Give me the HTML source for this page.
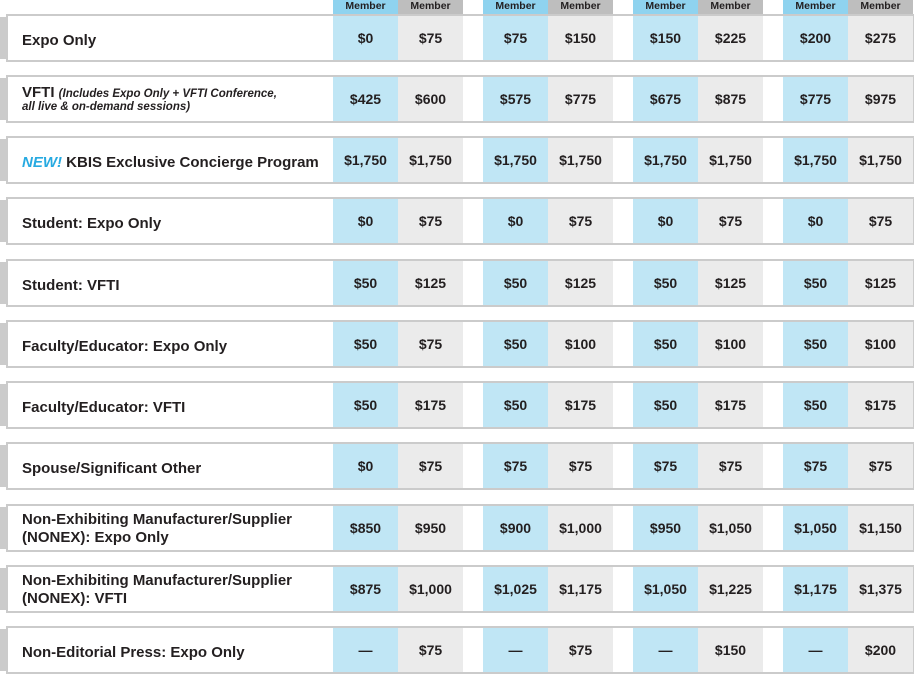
<!DOCTYPE html>
<html><head><meta charset="utf-8"><style>
*{margin:0;padding:0;box-sizing:border-box}
body{width:917px;height:675px;background:#fff;font-family:"Liberation Sans",Arial,sans-serif;color:#231f20;position:relative;overflow:hidden}
.h{position:absolute;top:0;height:14px;width:65px;font-size:10.5px;font-weight:bold;text-align:center;line-height:13px}
.hb{background:#8fd3ef}.hg{background:#bebebe}
.row{position:absolute;left:6px;width:908px;height:48px;border:2px solid #cbcbcb;background:#fff}
.tab{position:absolute;left:0;width:6px;height:42px;background:#cbcbcb}
.lab{position:absolute;left:14px;top:3px;height:44px;display:flex;align-items:center;font-size:15px;font-weight:bold;line-height:18px}
.c{position:absolute;top:0;height:44px;width:65px;display:flex;align-items:center;justify-content:center;font-size:14px;font-weight:bold}
.b{background:#c0e6f5}.g{background:#ebebeb}
.x1{left:325px}.x2{left:390px}.x3{left:475px}.x4{left:540px}.x5{left:625px}.x6{left:690px}.x7{left:775px}.x8{left:840px}
</style></head><body>
<div class="h hb" style="left:333px">Member</div><div class="h hg" style="left:398px">Member</div>
<div class="h hb" style="left:483px">Member</div><div class="h hg" style="left:548px">Member</div>
<div class="h hb" style="left:633px">Member</div><div class="h hg" style="left:698px">Member</div>
<div class="h hb" style="left:783px">Member</div><div class="h hg" style="left:848px">Member</div>

<div class="tab" style="top:17px"></div>
<div class="row" style="top:14px"><div class="lab">Expo Only</div>
<div class="c b x1">$0</div><div class="c g x2">$75</div><div class="c b x3">$75</div><div class="c g x4">$150</div><div class="c b x5">$150</div><div class="c g x6">$225</div><div class="c b x7">$200</div><div class="c g x8">$275</div></div>

<div class="tab" style="top:78px"></div>
<div class="row" style="top:75px"><div class="lab" style="display:block;top:0;padding-top:7px"><span style="font-size:15px">VFTI</span> <i style="font-size:11.5px">(Includes Expo Only + VFTI Conference,</i><br><i style="font-size:11.5px;line-height:12px;display:block;margin-top:-2px">all live &amp; on-demand sessions)</i></div>
<div class="c b x1">$425</div><div class="c g x2">$600</div><div class="c b x3">$575</div><div class="c g x4">$775</div><div class="c b x5">$675</div><div class="c g x6">$875</div><div class="c b x7">$775</div><div class="c g x8">$975</div></div>

<div class="tab" style="top:139px"></div>
<div class="row" style="top:136px"><div class="lab"><i style="color:#27aae1">NEW!</i>&nbsp;KBIS Exclusive Concierge Program</div>
<div class="c b x1">$1,750</div><div class="c g x2">$1,750</div><div class="c b x3">$1,750</div><div class="c g x4">$1,750</div><div class="c b x5">$1,750</div><div class="c g x6">$1,750</div><div class="c b x7">$1,750</div><div class="c g x8">$1,750</div></div>

<div class="tab" style="top:200px"></div>
<div class="row" style="top:197px"><div class="lab">Student: Expo Only</div>
<div class="c b x1">$0</div><div class="c g x2">$75</div><div class="c b x3">$0</div><div class="c g x4">$75</div><div class="c b x5">$0</div><div class="c g x6">$75</div><div class="c b x7">$0</div><div class="c g x8">$75</div></div>

<div class="tab" style="top:262px"></div>
<div class="row" style="top:259px"><div class="lab">Student: VFTI</div>
<div class="c b x1">$50</div><div class="c g x2">$125</div><div class="c b x3">$50</div><div class="c g x4">$125</div><div class="c b x5">$50</div><div class="c g x6">$125</div><div class="c b x7">$50</div><div class="c g x8">$125</div></div>

<div class="tab" style="top:323px"></div>
<div class="row" style="top:320px"><div class="lab">Faculty/Educator: Expo Only</div>
<div class="c b x1">$50</div><div class="c g x2">$75</div><div class="c b x3">$50</div><div class="c g x4">$100</div><div class="c b x5">$50</div><div class="c g x6">$100</div><div class="c b x7">$50</div><div class="c g x8">$100</div></div>

<div class="tab" style="top:384px"></div>
<div class="row" style="top:381px"><div class="lab">Faculty/Educator: VFTI</div>
<div class="c b x1">$50</div><div class="c g x2">$175</div><div class="c b x3">$50</div><div class="c g x4">$175</div><div class="c b x5">$50</div><div class="c g x6">$175</div><div class="c b x7">$50</div><div class="c g x8">$175</div></div>

<div class="tab" style="top:445px"></div>
<div class="row" style="top:442px"><div class="lab">Spouse/Significant Other</div>
<div class="c b x1">$0</div><div class="c g x2">$75</div><div class="c b x3">$75</div><div class="c g x4">$75</div><div class="c b x5">$75</div><div class="c g x6">$75</div><div class="c b x7">$75</div><div class="c g x8">$75</div></div>

<div class="tab" style="top:507px"></div>
<div class="row" style="top:504px"><div class="lab" style="top:1px">Non-Exhibiting Manufacturer/Supplier<br>(NONEX): Expo Only</div>
<div class="c b x1">$850</div><div class="c g x2">$950</div><div class="c b x3">$900</div><div class="c g x4">$1,000</div><div class="c b x5">$950</div><div class="c g x6">$1,050</div><div class="c b x7">$1,050</div><div class="c g x8">$1,150</div></div>

<div class="tab" style="top:568px"></div>
<div class="row" style="top:565px"><div class="lab" style="top:1px">Non-Exhibiting Manufacturer/Supplier<br>(NONEX): VFTI</div>
<div class="c b x1">$875</div><div class="c g x2">$1,000</div><div class="c b x3">$1,025</div><div class="c g x4">$1,175</div><div class="c b x5">$1,050</div><div class="c g x6">$1,225</div><div class="c b x7">$1,175</div><div class="c g x8">$1,375</div></div>

<div class="tab" style="top:629px"></div>
<div class="row" style="top:626px"><div class="lab">Non-Editorial Press: Expo Only</div>
<div class="c b x1">—</div><div class="c g x2">$75</div><div class="c b x3">—</div><div class="c g x4">$75</div><div class="c b x5">—</div><div class="c g x6">$150</div><div class="c b x7">—</div><div class="c g x8">$200</div></div>
</body></html>
